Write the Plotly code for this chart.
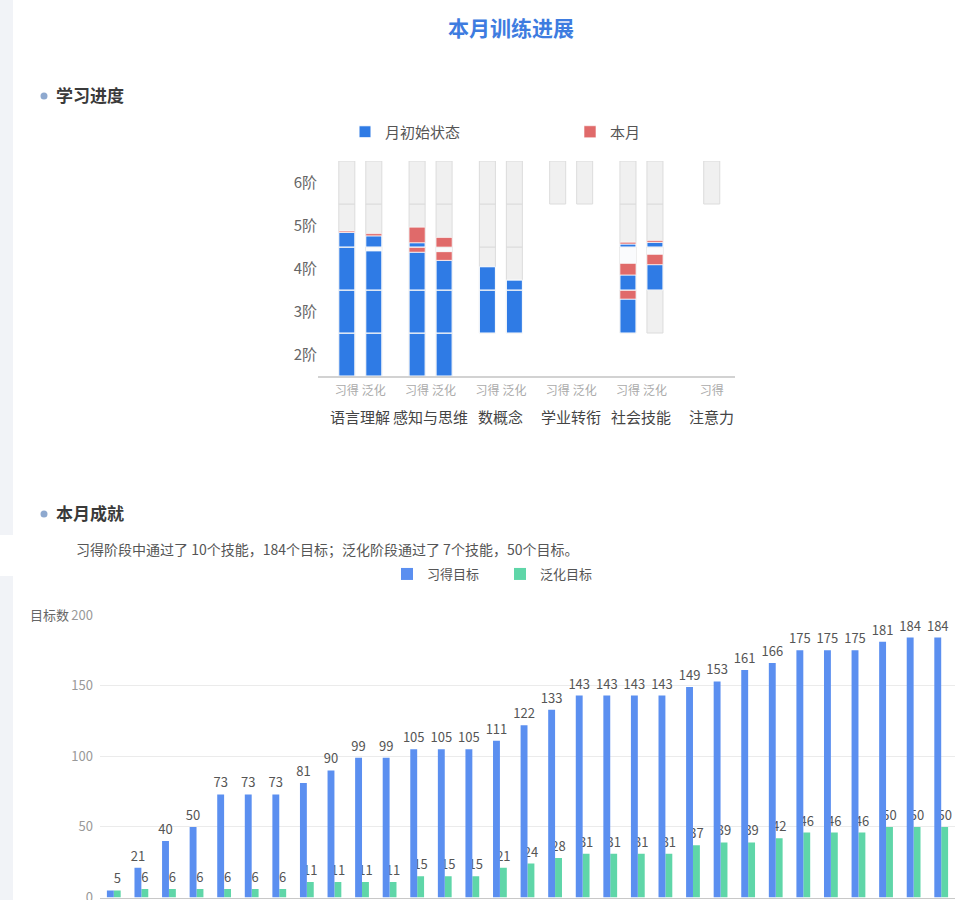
import plotly.graph_objects as go

W, H = 975, 900
FONT = "Noto Sans CJK SC, Noto Sans, sans-serif"

# ---------------- data: upper chart (学习进度) ----------------
DOMAINS = ["语言理解", "感知与思维", "数概念", "学业转衔", "社会技能", "注意力"]
STAGES = [["习得", "泛化"], ["习得", "泛化"], ["习得", "泛化"],
          ["习得", "泛化"], ["习得", "泛化"], ["习得"]]
LEVELS = ["2阶", "3阶", "4阶", "5阶", "6阶"]
# rows = levels (2阶..6阶), columns = the 11 bars in domain/stage order
# None = the level is not part of that program
INIT_STATE = [
    [1, 1, 1, 1, None, None, None, None, None, None, None],
    [1, 1, 1, 1, 1, 1, None, None, 0.79, 0, None],
    [1, 0.91, 0.88, 0.69, 0.54, 0.23, None, None, 0.35, 0.59, None],
    [0.34, 0.26, 0.10, 0, 0, 0, None, None, 0.07, 0.11, None],
    [0, 0, 0, 0, 0, 0, 0, 0, 0, 0, 0],
]
THIS_MONTH = [
    [0, 0, 0, 0, None, None, None, None, None, None, None],
    [0, 0, 0, 0, 0, 0, None, None, 0.21, 0, None],
    [0, 0, 0.12, 0.20, 0, 0, None, None, 0.27, 0.24, None],
    [0.03, 0.05, 0.36, 0.22, 0, 0, None, None, 0.04, 0.04, None],
    [0, 0, 0, 0, 0, 0, 0, 0, 0, 0, 0],
]
PENDING = [
    [0, 0, 0, 0, None, None, None, None, None, None, None],
    [0, 0, 0, 0, 0, 0, None, None, 0, 0, None],
    [0, 0.09, 0, 0.11, 0, 0, None, None, 0.38, 0.16, None],
    [0, 0, 0, 0, 0, 0, None, None, 0, 0, None],
    [0, 0, 0, 0, 0, 0, 0, 0, 0, 0, 0],
]
LEGEND_UP = ["月初始状态", "本月"]

# ---------------- data: lower chart (本月成就) ----------------
DAYS = list(range(1, 32))
ACQ = [5, 21, 40, 50, 73, 73, 73, 81, 90, 99, 99, 105, 105, 105, 111, 122,
       133, 143, 143, 143, 143, 149, 153, 161, 166, 175, 175, 175, 181, 184, 184]
GEN = [5, 6, 6, 6, 6, 6, 6, 11, 11, 11, 11, 15, 15, 15, 21, 24,
       28, 31, 31, 31, 31, 37, 39, 39, 42, 46, 46, 46, 50, 50, 50]
LEGEND_LOW = ["习得目标", "泛化目标"]
SUMMARY = "习得阶段中通过了 10个技能，184个目标；泛化阶段通过了 7个技能，50个目标。"

# ---------------- styles ----------------
C_BLUE = "#2F7BE5"
C_RED = "#E06A6A"
C_PEND = "#FAFBFD"
C_GRAY = "#F0F0F0"
C_ACQ = "#5B8FF0"
C_GEN = "#5FD6A8"
PAIR_OFF = 0.192
BAR_W = 0.228


def fx(p):
    return p / W


def fy(p):
    return 1 - p / H


fig = go.Figure()

# bar positions of the upper chart (category index +/- pair offset)
bar_x, bar_lbl = [], []
for gi, st in enumerate(STAGES):
    offs = [-PAIR_OFF, PAIR_OFF] if len(st) == 2 else [0.0]
    for o, s in zip(offs, st):
        bar_x.append(gi + o)
        bar_lbl.append(s)

shown = set()
for li, lvl in enumerate(LEVELS):
    init, mon, pend = INIT_STATE[li], THIS_MONTH[li], PENDING[li]
    idx = [i for i, v in enumerate(init) if v is not None]
    fig.add_trace(go.Bar(
        x=[bar_x[i] for i in idx], y=[1] * len(idx), base=[li] * len(idx),
        width=BAR_W, marker=dict(color=C_GRAY, line=dict(color="#DCDCDC", width=1)),
        showlegend=False, hoverinfo="skip", xaxis="x", yaxis="y"))
    cum = {i: 0.0 for i in idx}
    for key, vals, color, name, lw in [
        ("init", init, C_BLUE, LEGEND_UP[0], 1),
        ("mon", mon, C_RED, LEGEND_UP[1], 0.6),
        ("pend", pend, C_PEND, None, 0),
    ]:
        xs, ys, bs = [], [], []
        for i in idx:
            v = vals[i]
            if v and v > 0:
                xs.append(bar_x[i])
                ys.append(v)
                bs.append(li + cum[i])
                cum[i] += v
        if not xs:
            continue
        show = name is not None and key not in shown
        if show:
            shown.add(key)
        fig.add_trace(go.Bar(
            x=xs, y=ys, base=bs, width=BAR_W,
            marker=dict(color=color, line=dict(color="white", width=lw)),
            name=name if name else "", legendgroup=key, showlegend=show,
            legend="legend", legendrank=1 if key == "init" else 2,
            hoverinfo="skip", xaxis="x", yaxis="y"))

# lower chart
gen_text = [str(v) for v in GEN]
acq_text = ["" if abs(a - g) < 4 else str(a) for a, g in zip(ACQ, GEN)]
fig.add_trace(go.Bar(
    x=DAYS, y=GEN, offset=0, width=0.25, marker=dict(color=C_GEN, line=dict(width=0)),
    text=gen_text, textposition="outside", constraintext="none", cliponaxis=False,
    textfont=dict(size=13, color="#555555", family=FONT),
    name=LEGEND_LOW[1], legend="legend2", legendrank=2, xaxis="x2", yaxis="y2"))
fig.add_trace(go.Bar(
    x=DAYS, y=ACQ, offset=-0.25, width=0.25, marker=dict(color=C_ACQ, line=dict(width=0)),
    text=acq_text, textposition="outside", constraintext="none", cliponaxis=False,
    textfont=dict(size=13, color="#555555", family=FONT),
    name=LEGEND_LOW[0], legend="legend2", legendrank=1, xaxis="x2", yaxis="y2"))

annotations = [
    dict(text="<b>本月训练进展</b>", x=fx(511), y=fy(27), xref="paper", yref="paper",
         yanchor="middle", showarrow=False, font=dict(size=21, color="#3E7CE0", family=FONT)),
    dict(text="<b>学习进度</b>", x=fx(54), y=fy(95), xref="paper", yref="paper",
         xanchor="left", yanchor="middle", showarrow=False,
         font=dict(size=17, color="#3A3A3A", family=FONT)),
    dict(text="<b>本月成就</b>", x=fx(54), y=fy(512), xref="paper", yref="paper",
         xanchor="left", yanchor="middle", showarrow=False,
         font=dict(size=17, color="#3A3A3A", family=FONT)),
    dict(text=SUMMARY, x=fx(74), y=fy(549), xref="paper", yref="paper",
         xanchor="left", yanchor="middle", showarrow=False,
         font=dict(size=14, color="#555555", family=FONT)),
    dict(text="目标数", x=fx(71), y=fy(614), xref="paper", yref="paper",
         xanchor="right", yanchor="middle", showarrow=False,
         font=dict(size=13, color="#666666", family=FONT)),
]
for gi, name in enumerate(DOMAINS):
    annotations.append(dict(text=name, x=gi, y=fy(416), xref="x", yref="paper",
                            yanchor="middle", showarrow=False,
                            font=dict(size=15, color="#444444", family=FONT)))

shapes = [
    dict(type="rect", xref="paper", yref="paper", x0=0, x1=fx(13), y0=fy(535), y1=1,
         fillcolor="#F1F3F7", line=dict(width=0), layer="below"),
    dict(type="rect", xref="paper", yref="paper", x0=0, x1=fx(13), y0=0, y1=fy(576),
         fillcolor="#F1F3F7", line=dict(width=0), layer="below"),
]
for cy in (96, 514):
    shapes.append(dict(type="circle", xref="paper", yref="paper",
                       x0=fx(40.5), x1=fx(47.5), y0=fy(cy + 3.5), y1=fy(cy - 3.5),
                       fillcolor="#8EA9CF", line=dict(width=0)))

fig.update_layout(
    width=W, height=H, margin=dict(l=0, r=0, t=0, b=0, autoexpand=False),
    paper_bgcolor="white", plot_bgcolor="white",
    barmode="overlay", font=dict(family=FONT, color="#555555"),
    xaxis=dict(domain=[fx(318), fx(735)], range=[-0.602, 5.331], anchor="y",
               tickmode="array", tickvals=bar_x, ticktext=bar_lbl, ticks="",
               tickfont=dict(size=12, color="#AAAAAA"), ticklabelstandoff=3,
               showgrid=False, zeroline=False,
               showline=True, linecolor="#D2D2D2", linewidth=1.5, fixedrange=True,
               automargin=False),
    yaxis=dict(domain=[fy(376), fy(161)], range=[0, 5], anchor="x",
               tickmode="array", tickvals=[i + 0.5 for i in range(len(LEVELS))],
               ticktext=LEVELS, tickfont=dict(size=15, color="#666666"),
               showgrid=False, zeroline=False, showline=False, ticks="", fixedrange=True,
               automargin=False),
    xaxis2=dict(domain=[fx(100), fx(955)], range=[0.5, 31.5], anchor="y2",
                showticklabels=False, ticks="", showgrid=False, zeroline=False,
                showline=True, linecolor="#C8C8C8", linewidth=1, fixedrange=True,
                automargin=False),
    yaxis2=dict(domain=[fy(897.5), fy(615)], range=[0, 200], anchor="x2",
                tickmode="array", tickvals=[0, 50, 100, 150, 200],
                tickfont=dict(size=13, color="#999999"), gridcolor="#EBEBEB",
                zeroline=False, showline=False, ticks="", ticklabelstandoff=6,
                ticklabeloverflow="allow", fixedrange=True, automargin=False),
    legend=dict(orientation="h", x=fx(345), y=fy(132), xanchor="left", yanchor="middle",
                font=dict(size=15, color="#555555"), bgcolor="rgba(0,0,0,0)",
                entrywidth=180, entrywidthmode="pixels", itemclick=False),
    legend2=dict(orientation="h", x=fx(387), y=fy(574), xanchor="left", yanchor="middle",
                 font=dict(size=13, color="#555555"), bgcolor="rgba(0,0,0,0)",
                 entrywidth=68, entrywidthmode="pixels", itemclick=False),
    annotations=annotations, shapes=shapes, showlegend=True,
)

fig.write_html("out.html")
